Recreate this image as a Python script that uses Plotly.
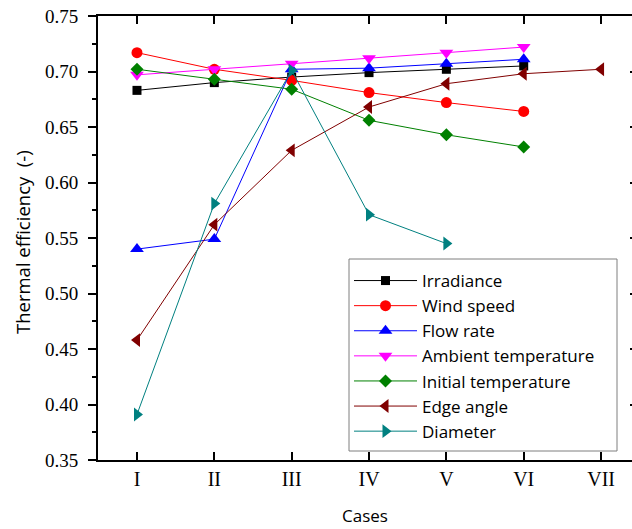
import plotly.graph_objects as go

cases = ["I", "II", "III", "IV", "V", "VI", "VII"]
y_ticks = [0.35, 0.40, 0.45, 0.50, 0.55, 0.60, 0.65, 0.70, 0.75]

irradiance = [0.683, 0.690, 0.695, 0.699, 0.702, 0.705]
wind_speed = [0.717, 0.702, 0.692, 0.681, 0.672, 0.664]
flow_rate = [0.540, 0.549, 0.702, 0.703, 0.707, 0.711]
ambient_temperature = [0.697, 0.702, 0.707, 0.712, 0.717, 0.722]
initial_temperature = [0.702, 0.693, 0.684, 0.656, 0.643, 0.632]
edge_angle = [0.458, 0.562, 0.629, 0.668, 0.689, 0.698, 0.702]
diameter = [0.391, 0.581, 0.701, 0.571, 0.545]

series = [
    ("Irradiance", irradiance, "#000000", "square", 9),
    ("Wind speed", wind_speed, "#FF0000", "circle", 11),
    ("Flow rate", flow_rate, "#0000FF", "triangle-up", 12),
    ("Ambient temperature", ambient_temperature, "#FF00FF", "triangle-down", 12),
    ("Initial temperature", initial_temperature, "#008000", "diamond", 10),
    ("Edge angle", edge_angle, "#800000", "triangle-left", 12),
    ("Diameter", diameter, "#008080", "triangle-right", 12),
]

fig = go.Figure()
for name, vals, color, sym, size in series:
    fig.add_trace(go.Scatter(
        x=cases[:len(vals)], y=vals, name=name, mode="lines+markers",
        line=dict(color=color, width=1),
        marker=dict(symbol=sym, size=size, color=color, line=dict(width=0)),
    ))

# dummy trace for right-side inward ticks
fig.add_trace(go.Scatter(x=[cases[0]], y=[None], yaxis="y2", showlegend=False,
                         hoverinfo="skip"))

serif = "Liberation Serif"
sans = "Open Sans"

W, H = 632, 529
L, T, B, R = 98, 16, 69, 0
pw, ph = W - L - R, H - T - B


def px_x(x):  # window pixel -> paper x
    return (x - L) / pw


def px_y(y):  # window pixel -> paper y
    return (H - B - y) / ph


fig.update_layout(
    width=W, height=H,
    margin=dict(l=L, r=R, t=T, b=B),
    paper_bgcolor="white", plot_bgcolor="white",
    showlegend=True,
    legend=dict(
        x=px_x(349), y=px_y(263), xanchor="left", yanchor="top",
        bgcolor="rgba(0,0,0,0)", borderwidth=0,
        font=dict(family=sans, size=17, color="#000000"),
        itemwidth=63, tracegroupgap=0,
    ),
    shapes=[dict(
        type="rect", xref="paper", yref="paper", layer="above",
        x0=px_x(349), x1=px_x(617), y0=px_y(451), y1=px_y(259),
        line=dict(color="#7f7f7f", width=1), fillcolor="white",
    )],
    annotations=[dict(
        text="Thermal efficiency\u00a0\u00a0(-)", textangle=-90,
        xref="paper", yref="paper", x=px_x(22), y=px_y(242),
        xanchor="center", yanchor="middle", showarrow=False,
        font=dict(family=sans, size=18.5, color="#000000"),
    )],
    xaxis=dict(
        type="category", categoryorder="array", categoryarray=cases,
        range=[-0.504, 6.40], automargin=False,
        tickvals=cases, ticktext=cases,
        ticks="inside", ticklen=8, tickwidth=2, tickcolor="#000000",
        showline=True, linewidth=2, linecolor="#000000", mirror="ticks",
        showgrid=False, zeroline=False,
        tickfont=dict(family=serif, size=20, color="#000000"),
        title=dict(text="Cases", font=dict(family=sans, size=17, color="#000000"), standoff=21),
    ),
    yaxis=dict(
        range=[0.35, 0.75], tickvals=y_ticks, tickformat=".2f", automargin=False,
        ticks="outside", ticklen=8, tickwidth=2, tickcolor="#000000",
        minor=dict(dtick=0.025, ticks="outside", ticklen=4, tickwidth=2, tickcolor="#000000"),
        showline=True, linewidth=2, linecolor="#000000",
        showgrid=False, zeroline=False, ticklabelstandoff=6, ticklabeloverflow="allow",
        tickfont=dict(family=serif, size=19, color="#000000"),
    ),
    yaxis2=dict(
        overlaying="y", side="right", range=[0.35, 0.75], tickvals=y_ticks,
        ticks="inside", ticklen=2, tickwidth=2, tickcolor="#000000", automargin=False,
        showticklabels=False, showline=False, showgrid=False, zeroline=False,
    ),
)

fig.write_html(
    "out.html",
    config={"displayModeBar": False},
    post_script="document.body.style.margin='0px';"
                "document.documentElement.style.overflow='hidden';",
)
